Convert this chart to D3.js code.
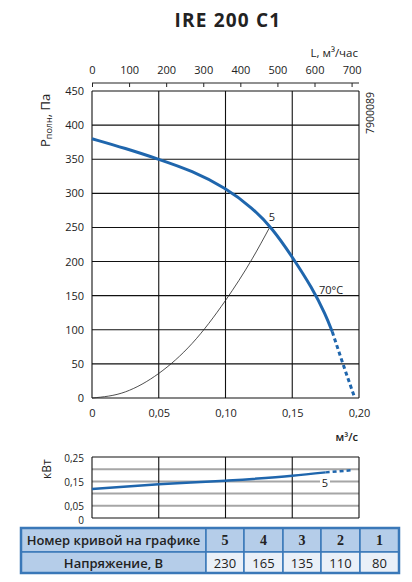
<!DOCTYPE html>
<html><head><meta charset="utf-8">
<script src="https://cdn.jsdelivr.net/npm/d3@7"></script>
<style>
html,body{margin:0;padding:0;background:#fff;}
svg{display:block;font-family:"Open Sans",sans-serif;}
</style></head>
<body><svg id="c" width="412" height="582"></svg>
<script>
// ---- data ----
const titleText = "IRE 200 C1";
const flowTicks = [0, 0.05, 0.10, 0.15, 0.20];
const flowTickLabels = ["0", "0,05", "0,10", "0,15", "0,20"];
const airTicks = [0, 100, 200, 300, 400, 500, 600, 700];
const pressTicks = [0, 50, 100, 150, 200, 250, 300, 350, 400, 450];
const fanQ = [0, 0.025, 0.05, 0.075, 0.10, 0.12, 0.135, 0.15, 0.165, 0.175, 0.18];
const fanP = [380, 366, 350, 333, 308, 279, 249, 207, 161, 122, 97];
const fanDashQ = [0.18, 0.188, 0.1965];
const fanDashP = [97, 50, 2];
const sysQ = [0, 0.025, 0.05, 0.075, 0.10, 0.12, 0.1333];
const sysP = [0, 9, 36, 80, 143, 204, 251];
const powTicks = [0, 0.05, 0.15, 0.25];
const powTickLabels = ["0", "0,05", "0,15", "0,25"];
const powGrid = [0.05, 0.10, 0.15, 0.20];
const powQ = [0, 0.05, 0.10, 0.15, 0.175];
const powW = [0.119, 0.138, 0.153, 0.173, 0.187];
const powDashQ = [0.175, 0.195];
const powDashW = [0.187, 0.196];
const tableHead = ["Номер кривой на графике", "5", "4", "3", "2", "1"];
const tableRow = ["Напряжение, В", "230", "165", "135", "110", "80"];

// ---- drawing ----
const svg = d3.select("#c");
const blue = "#1f66ad";
const x = d3.scaleLinear([0, 0.2], [92, 359]);
const xL = d3.scaleLinear([0, 720], [92, 359]);
const y = d3.scaleLinear([0, 450], [398, 91]);
const yP = d3.scaleLinear([0, 0.25], [518, 457]);

svg.append("text").attr("x", 228).attr("y", 27).attr("text-anchor", "middle")
  .attr("font-size", 19).attr("font-weight", 700).attr("letter-spacing", 1.2)
  .attr("fill", "#222").text(titleText);

// top axis
svg.append("text").attr("x", 358).attr("y", 57).attr("text-anchor", "end")
  .attr("font-size", 11.5).attr("fill", "#222").text("L, м³/час");
const topAxis = svg.append("g").attr("transform", "translate(0,83)")
  .call(d3.axisTop(xL).tickValues(airTicks).tickSizeInner(-4).tickSizeOuter(0).tickPadding(9));
topAxis.select(".domain").attr("stroke", "#222").attr("stroke-width", 1.2).attr("d", "M92,0H359");
topAxis.selectAll("line").attr("stroke", "#222");
topAxis.selectAll("text").attr("font-size", 11).attr("fill", "#222").attr("font-family", "Open Sans");

// main grid
const g = svg.append("g");
g.selectAll(".h").data(pressTicks).join("line")
  .attr("x1", 92).attr("x2", 359).attr("y1", d => y(d)).attr("y2", d => y(d))
  .attr("stroke", "#111").attr("stroke-width", 1.1);
g.selectAll(".v").data(flowTicks).join("line")
  .attr("y1", 91).attr("y2", 398).attr("x1", d => x(d)).attr("x2", d => x(d))
  .attr("stroke", "#111").attr("stroke-width", 1.1);

// y axis labels
const ya = svg.append("g").attr("transform", "translate(92,0)")
  .call(d3.axisLeft(y).tickValues(pressTicks).tickSize(0).tickPadding(8));
ya.select(".domain").remove();
ya.selectAll("text").attr("font-size", 11).attr("fill", "#222").attr("font-family", "Open Sans");

const xa = svg.append("g").attr("transform", "translate(0,398)")
  .call(d3.axisBottom(x).tickValues(flowTicks).tickFormat((d, i) => flowTickLabels[i]).tickSize(0).tickPadding(11));
xa.select(".domain").remove();
xa.selectAll("text").attr("font-size", 11).attr("fill", "#222").attr("font-family", "Open Sans");

svg.append("text").attr("x", 358).attr("y", 441).attr("text-anchor", "end")
  .attr("font-size", 11).attr("font-weight", 600).attr("fill", "#222").text("м³/с");

const yl = svg.append("text").attr("transform", "translate(50,147) rotate(-90)")
  .attr("font-size", 13).attr("fill", "#222");
yl.append("tspan").text("Р");
yl.append("tspan").attr("font-size", 9).attr("dy", 2).text("полн");
yl.append("tspan").attr("dy", -2).text(", Па");

svg.append("text").attr("transform", "translate(374,92) rotate(-90)").attr("text-anchor", "end")
  .attr("font-size", 10.5).attr("fill", "#222").text("7900089");

// curves
const line = d3.line().x(d => x(d[0])).y(d => y(d[1])).curve(d3.curveBasis);
const sysLine = d3.line().x(d => x(d[0])).y(d => y(d[1])).curve(d3.curveMonotoneX);
svg.append("path").datum(sysQ.map((q, i) => [q, sysP[i]])).attr("d", sysLine)
  .attr("fill", "none").attr("stroke", "#222").attr("stroke-width", 0.8);
svg.append("path").datum(fanQ.map((q, i) => [q, fanP[i]])).attr("d", line)
  .attr("fill", "none").attr("stroke", blue).attr("stroke-width", 3);
svg.append("path").datum(fanDashQ.map((q, i) => [q, fanDashP[i]]))
  .attr("d", d3.line().x(d => x(d[0])).y(d => y(d[1])).curve(d3.curveMonotoneY))
  .attr("fill", "none").attr("stroke", blue).attr("stroke-width", 3).attr("stroke-dasharray", "4,3");
svg.append("text").attr("x", 272).attr("y", 221).attr("text-anchor", "middle")
  .attr("font-size", 11).attr("fill", "#222").text("5");
svg.append("text").attr("x", 319).attr("y", 294)
  .attr("font-size", 11).attr("fill", "#222").text("70°C");

// power chart
const pg = svg.append("g");
pg.selectAll("line.g").data(powGrid).join("line")
  .attr("x1", 92).attr("x2", 359).attr("y1", d => yP(d)).attr("y2", d => yP(d))
  .attr("stroke", "#a6a6a6").attr("stroke-width", 2);
pg.selectAll("line.v").data(flowTicks).join("line")
  .attr("y1", yP(0.25)).attr("y2", yP(0)).attr("x1", d => x(d)).attr("x2", d => x(d))
  .attr("stroke", "#111").attr("stroke-width", 1.1);
pg.append("line").attr("x1", 92).attr("x2", 359).attr("y1", yP(0.25)).attr("y2", yP(0.25)).attr("stroke", "#111").attr("stroke-width", 1.1);
pg.append("line").attr("x1", 92).attr("x2", 359).attr("y1", yP(0)).attr("y2", yP(0)).attr("stroke", "#111").attr("stroke-width", 1.1);
const pline = d3.line().x(d => x(d[0])).y(d => yP(d[1])).curve(d3.curveMonotoneX);
pg.append("path").datum(powQ.map((q, i) => [q, powW[i]])).attr("d", pline)
  .attr("fill", "none").attr("stroke", blue).attr("stroke-width", 2.5);
pg.append("path").datum(powDashQ.map((q, i) => [q, powDashW[i]])).attr("d", pline)
  .attr("fill", "none").attr("stroke", blue).attr("stroke-width", 2.5).attr("stroke-dasharray", "4,3");
pg.append("rect").attr("x", 320).attr("y", 474).attr("width", 10).attr("height", 14).attr("fill", "#fff");
pg.append("text").attr("x", 325).attr("y", 487).attr("text-anchor", "middle")
  .attr("font-size", 11).attr("fill", "#222").text("5");
const pya = svg.append("g").attr("transform", "translate(92,0)")
  .call(d3.axisLeft(yP).tickValues(powTicks).tickFormat((d, i) => powTickLabels[i]).tickSize(0).tickPadding(8));
pya.select(".domain").remove();
pya.selectAll("text").attr("font-size", 10).attr("fill", "#222").attr("font-family", "Open Sans");
pya.selectAll(".tick").each(function(d) {
  const t = d3.select(this).select("text");
  if (d === 0) t.attr("y", 2);
  else if (d === 0.05) t.attr("y", 0.5);
  else t.attr("y", 1);
});
svg.append("text").attr("transform", "translate(51,479) rotate(-90)")
  .attr("font-size", 12).attr("fill", "#222").text("кВт");

// table
const colX = [21, 206, 244, 283, 321, 360, 399];
const rowY = [528, 552, 573];
const tb = svg.append("g");
[tableHead, tableRow].forEach((row, r) => {
  row.forEach((t, c) => {
    const fill = (r === 0 || c === 0) ? "#b5cde9" : "#eaf0f8";
    tb.append("rect").attr("x", colX[c]).attr("y", rowY[r]).attr("width", colX[c + 1] - colX[c])
      .attr("height", rowY[r + 1] - rowY[r]).attr("fill", fill)
      .attr("stroke", "#3a78b8").attr("stroke-width", 1.5);
    const tx = tb.append("text").attr("x", (colX[c] + colX[c + 1]) / 2).attr("y", (rowY[r] + rowY[r + 1]) / 2 + 5)
      .attr("text-anchor", "middle").attr("fill", "#222").text(t);
    if (c === 0) tx.attr("font-size", 13).attr("font-weight", 600);
    else if (r === 0) tx.attr("font-size", 14).attr("font-weight", 700).attr("font-family", "Liberation Serif");
    else tx.attr("font-size", 13);
  });
});
tb.append("rect").attr("x", 21).attr("y", 528).attr("width", 378).attr("height", 45)
  .attr("fill", "none").attr("stroke", "#3a78b8").attr("stroke-width", 2.5);
</script></body></html>
